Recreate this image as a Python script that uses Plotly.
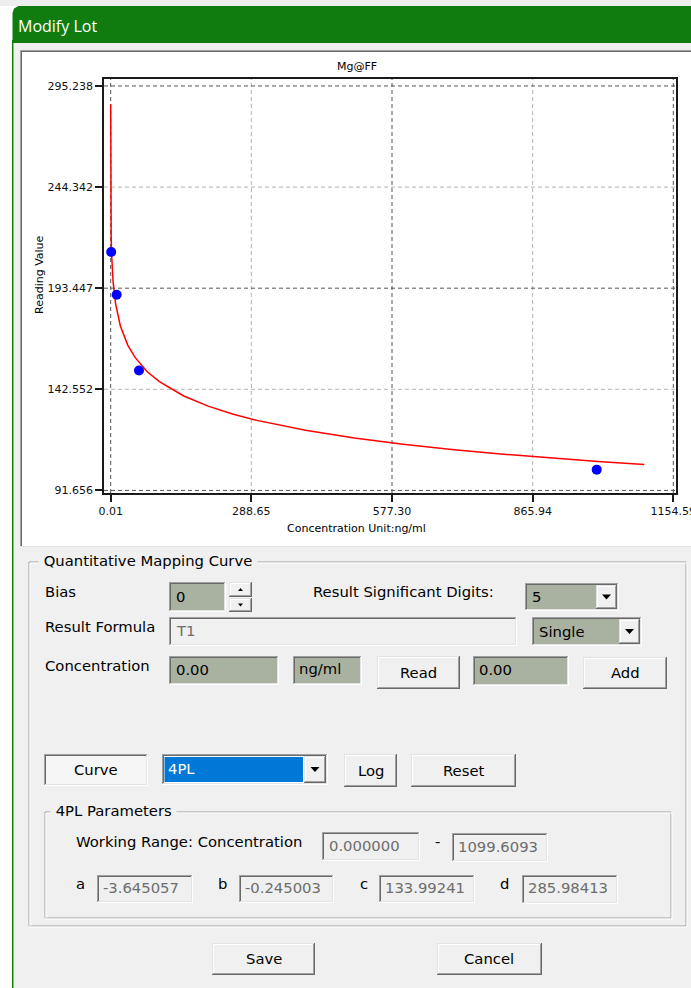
import plotly.graph_objects as go

# ---------------- data ----------------
conc_points = [1.0, 12.3, 58.1, 997.4]
reading_points = [211.7, 190.1, 152.0, 102.1]

curve_conc = [0.0, 0.01, 0.1, 0.5, 1, 2, 3, 5, 10, 15, 20, 35, 50, 75, 100, 150,
              200, 250, 300, 400, 500, 600, 700, 800, 900, 1000, 1095]
curve_reading = [286.0, 260.3, 243.6, 227.3, 218.9, 209.8, 204.1, 196.5, 185.7, 179.1,
                 174.3, 164.8, 158.6, 151.4, 146.4, 139.2, 134.1, 130.1, 126.9, 121.9,
                 118.0, 114.9, 112.2, 110.0, 108.0, 106.2, 104.7]

x_tick_values = [0.01, 288.65, 577.30, 865.94, 1154.59]
x_tick_labels = ["0.01", "288.65", "577.30", "865.94", "1154.59"]
y_tick_values = [91.656, 142.552, 193.447, 244.342, 295.238]
y_tick_labels = ["91.656", "142.552", "193.447", "244.342", "295.238"]

chart_title = "Mg@FF"
x_title = "Concentration Unit:ng/ml"
y_title = "Reading Value"

# ---------------- helpers (pixel -> paper) ----------------
W, H = 691, 988
BG = "#f0f0f0"
FIELD = "#a9b2a0"
UI_FONT = "DejaVu Sans"
UI_SIZE = 14.8
UI_DY = -1.5
GRAY_TXT = "#6d6d6d"

shapes = []
annots = []


def px(x):
    return x / W


def py(y):
    return 1 - y / H


def rect(x0, y0, x1, y1, fill):
    shapes.append(dict(type="rect", xref="paper", yref="paper",
                       x0=px(x0), x1=px(x1), y0=py(y1), y1=py(y0),
                       fillcolor=fill, line=dict(width=0), layer="below"))


def seg(x0, y0, x1, y1, color, lw=1):
    shapes.append(dict(type="line", xref="paper", yref="paper",
                       x0=px(x0), y0=py(y0), x1=px(x1), y1=py(y1),
                       line=dict(color=color, width=lw), layer="below"))


def poly(points, fill):
    d = "M " + " L ".join(f"{px(a):.5f},{py(b):.5f}" for a, b in points) + " Z"
    shapes.append(dict(type="path", xref="paper", yref="paper", path=d,
                       fillcolor=fill, line=dict(width=0), layer="below"))


def text(x, y, s, size=UI_SIZE, color="black", anchor="left", family=UI_FONT,
         bg=None, angle=0, dy=UI_DY):
    a = dict(x=px(x), y=py(y + dy), xref="paper", yref="paper", text=s, showarrow=False,
             xanchor=anchor, yanchor="middle", textangle=angle, borderpad=0,
             font=dict(family=family, size=size, color=color))
    if bg:
        a["bgcolor"] = bg
    annots.append(a)


def sunken(x0, y0, x1, y1, fill):
    rect(x0, y0, x1, y1, fill)
    seg(x0, y0 + 0.5, x1, y0 + 0.5, "#a0a0a0")
    seg(x0 + 0.5, y0, x0 + 0.5, y1, "#a0a0a0")
    seg(x0 + 1, y0 + 1.5, x1 - 1, y0 + 1.5, "#696969")
    seg(x0 + 1.5, y0 + 1, x0 + 1.5, y1 - 1, "#696969")
    seg(x0, y1 - 0.5, x1, y1 - 0.5, "#ffffff")
    seg(x1 - 0.5, y0, x1 - 0.5, y1, "#ffffff")
    seg(x0 + 1, y1 - 1.5, x1 - 1, y1 - 1.5, "#e3e3e3")
    seg(x1 - 1.5, y0 + 1, x1 - 1.5, y1 - 1, "#e3e3e3")


def raised(x0, y0, x1, y1, fill=BG):
    rect(x0, y0, x1, y1, fill)
    seg(x0, y0 + 0.5, x1, y0 + 0.5, "#e3e3e3")
    seg(x0 + 0.5, y0, x0 + 0.5, y1, "#e3e3e3")
    seg(x0 + 1, y0 + 1.5, x1 - 1, y0 + 1.5, "#ffffff")
    seg(x0 + 1.5, y0 + 1, x0 + 1.5, y1 - 1, "#ffffff")
    seg(x0, y1 - 0.5, x1, y1 - 0.5, "#696969")
    seg(x1 - 0.5, y0, x1 - 0.5, y1, "#696969")
    seg(x0 + 1, y1 - 1.5, x1 - 1, y1 - 1.5, "#a0a0a0")
    seg(x1 - 1.5, y0 + 1, x1 - 1.5, y1 - 1, "#a0a0a0")


def tri_down(cx, cy, w, h):
    poly([(cx - w / 2, cy - h / 2), (cx + w / 2, cy - h / 2), (cx, cy + h / 2)], "black")


def tri_up(cx, cy, w, h):
    poly([(cx - w / 2, cy + h / 2), (cx + w / 2, cy + h / 2), (cx, cy - h / 2)], "black")


def etched(x0, y0, x1, y1):
    for c, o in (("#a0a0a0", 0), ("#ffffff", 1)):
        seg(x0 + o, y0 + o, x1 + o, y0 + o, c)
        seg(x0 + o, y1 + o, x1 + o, y1 + o, c)
        seg(x0 + o, y0 + o, x0 + o, y1 + o, c)
        seg(x1 + o, y0 + o, x1 + o, y1 + o, c)


def combo(x0, y0, x1, y1, label, bx0):
    sunken(x0, y0, x1, y1, FIELD)
    raised(bx0, y0 + 2, x1 - 2, y1 - 2)
    tri_down((bx0 + x1 - 2) / 2, (y0 + y1) / 2, 9, 5)
    text(x0 + 6, (y0 + y1) / 2 + 1, label)


def button(x0, y0, x1, y1, label):
    raised(x0, y0, x1, y1)
    text((x0 + x1) / 2, (y0 + y1) / 2 + 1, label, anchor="center")


# ---------------- window chrome ----------------
rect(0, 0, W, 6, "#eeeeee")
poly([(12.5, 43), (12.5, 13), (14, 8.5), (18.5, 6), (W, 6), (W, 43)], "#107c10")
rect(12.5, 43, W, H, BG)
seg(12.7, 40, 12.7, H, "#107c10", 1.5)
text(17, 26, "Modify Lot", size=16, color="white", family="Open Sans", dy=0)

# chart panel
rect(20, 50, W, 547, "#ffffff")
seg(20, 50.5, W, 50.5, "#a0a0a0")
seg(20.5, 50, 20.5, 547, "#a0a0a0")
seg(21, 51.5, W, 51.5, "#696969")
seg(21.5, 51, 21.5, 546, "#696969")
seg(20, 546.5, W, 546.5, "#e3e3e3")

# ---------------- group box 1 ----------------
etched(29, 562, 686, 926)
text(38, 562, " Quantitative Mapping Curve ", bg=BG)

text(44, 593, "Bias")
sunken(169, 582, 226, 612, FIELD)
text(175, 598, "0")
raised(229, 582, 252, 597)
raised(229, 598, 252, 612)
tri_up(240.5, 589.5, 5, 3)
tri_down(240.5, 605, 5, 3)

text(312, 593, "Result Significant Digits:")
combo(525, 583, 619, 611, "5", 596)

text(44, 628, "Result Formula")
sunken(169, 617, 517, 646, BG)
text(175, 632, "T1", color=GRAY_TXT)
combo(532, 617, 642, 646, "Single", 619)

text(44, 667, "Concentration")
sunken(169, 656, 279, 685, FIELD)
text(175, 671, "0.00")
sunken(293, 656, 362, 685, FIELD)
text(298, 670, "ng/ml")
button(377, 656, 460, 689, "Read")
sunken(473, 656, 569, 686, FIELD)
text(478, 671, "0.00")
button(583, 657, 667, 689, "Add")

# curve row
sunken(44, 754, 148, 786, "#f6f6f6")
text(96, 771, "Curve", anchor="center")
sunken(162, 754, 328, 785, "#ffffff")
rect(164.5, 757, 303, 782, "#0078d7")
text(167, 770, "4PL", color="white")
raised(304, 756, 326, 783)
tri_down(315, 769.5, 9, 5)
button(344, 754, 397, 787, "Log")
button(411, 754, 516, 787, "Reset")

# ---------------- group box 2 ----------------
etched(45, 812, 671, 918)
text(50, 812, " 4PL Parameters ", bg=BG)
text(75, 843, "Working Range: Concentration")
sunken(322, 832, 420, 861, BG)
text(328, 847, "0.000000", color=GRAY_TXT)
text(434, 843, "-")
sunken(452, 833, 548, 862, BG)
text(457, 848, "1099.6093", color=GRAY_TXT)

for lab, lx in (("a", 75), ("b", 217), ("c", 359), ("d", 499)):
    text(lx, 885, lab)
sunken(97, 875, 193, 903, BG)
text(102, 889, "-3.645057", color=GRAY_TXT)
sunken(239, 875, 334, 903, BG)
text(244, 889, "-0.245003", color=GRAY_TXT)
sunken(379, 875, 475, 903, BG)
text(384, 889, "133.99241", color=GRAY_TXT)
sunken(522, 875, 618, 904, BG)
text(527, 889, "285.98413", color=GRAY_TXT)

button(212, 943, 315, 975, "Save")
button(437, 943, 542, 975, "Cancel")

# ---------------- chart gridlines (dashed, alternating darkness) ----------------
for i, v in enumerate(x_tick_values):
    shapes.append(dict(type="line", xref="x", yref="y domain", x0=v, x1=v, y0=0, y1=1,
                       line=dict(color="#555555" if i % 2 == 0 else "#b4b4b4",
                                 width=1, dash="4px,3px"), layer="below"))
for i, v in enumerate(y_tick_values):
    shapes.append(dict(type="line", xref="x domain", yref="y", x0=0, x1=1, y0=v, y1=v,
                       line=dict(color="#555555" if i % 2 == 0 else "#b4b4b4",
                                 width=1, dash="4px,3px"), layer="below"))

# chart texts
CH_FONT = "DejaVu Sans"
text(357, 67, chart_title, size=11, anchor="center", family=CH_FONT, dy=0)
text(357, 528, x_title, size=11, anchor="center", family=CH_FONT, dy=0)
text(40, 275, y_title, size=11, anchor="center", family=CH_FONT, angle=-90, dy=0)

# ---------------- traces ----------------
fig = go.Figure()
fig.add_trace(go.Scatter(x=curve_conc, y=curve_reading, mode="lines",
                         line=dict(color="#ff0000", width=1.5), hoverinfo="skip"))
fig.add_trace(go.Scatter(x=conc_points, y=reading_points, mode="markers",
                         marker=dict(color="#0000ff", size=10), hoverinfo="skip"))

x_span = x_tick_values[-1] - x_tick_values[0]
y_span = y_tick_values[-1] - y_tick_values[0]

axis_common = dict(showgrid=False, zeroline=False, showline=True, linecolor="#1a1a1a",
                   linewidth=1.5, mirror=True, ticks="outside", ticklen=7, tickwidth=1.5,
                   tickcolor="#1a1a1a", ticklabeloverflow="allow", automargin=False,
                   tickfont=dict(family=CH_FONT, size=11, color="#111111"))

fig.update_layout(
    template="none",
    width=W, height=H, autosize=False, margin=dict(l=0, r=0, t=0, b=0, pad=0),
    paper_bgcolor="#ffffff", plot_bgcolor="#ffffff", showlegend=False,
    xaxis=dict(domain=[px(104), px(676)],
               range=[x_tick_values[0] - x_span * 0.0119, x_tick_values[-1] + x_span * 0.0048],
               tickvals=x_tick_values, ticktext=x_tick_labels, **axis_common),
    yaxis=dict(domain=[py(493), py(79)],
               range=[y_tick_values[0] - y_span * 0.0064, y_tick_values[-1] + y_span * 0.0172],
               tickvals=y_tick_values, ticktext=y_tick_labels, **axis_common),
    shapes=shapes, annotations=annots,
)

fig.write_html(
    "out.html", config={"displayModeBar": False, "responsive": False},
    post_script=("document.documentElement.style.margin='0px';"
                 "document.body.style.margin='0px';"
                 "document.body.style.overflow='hidden';"
                 "document.documentElement.style.overflow='hidden';"
                 "var d=document.getElementById('{plot_id}');"
                 "d.style.position='fixed';d.style.left='0px';d.style.top='0px';"),
)
